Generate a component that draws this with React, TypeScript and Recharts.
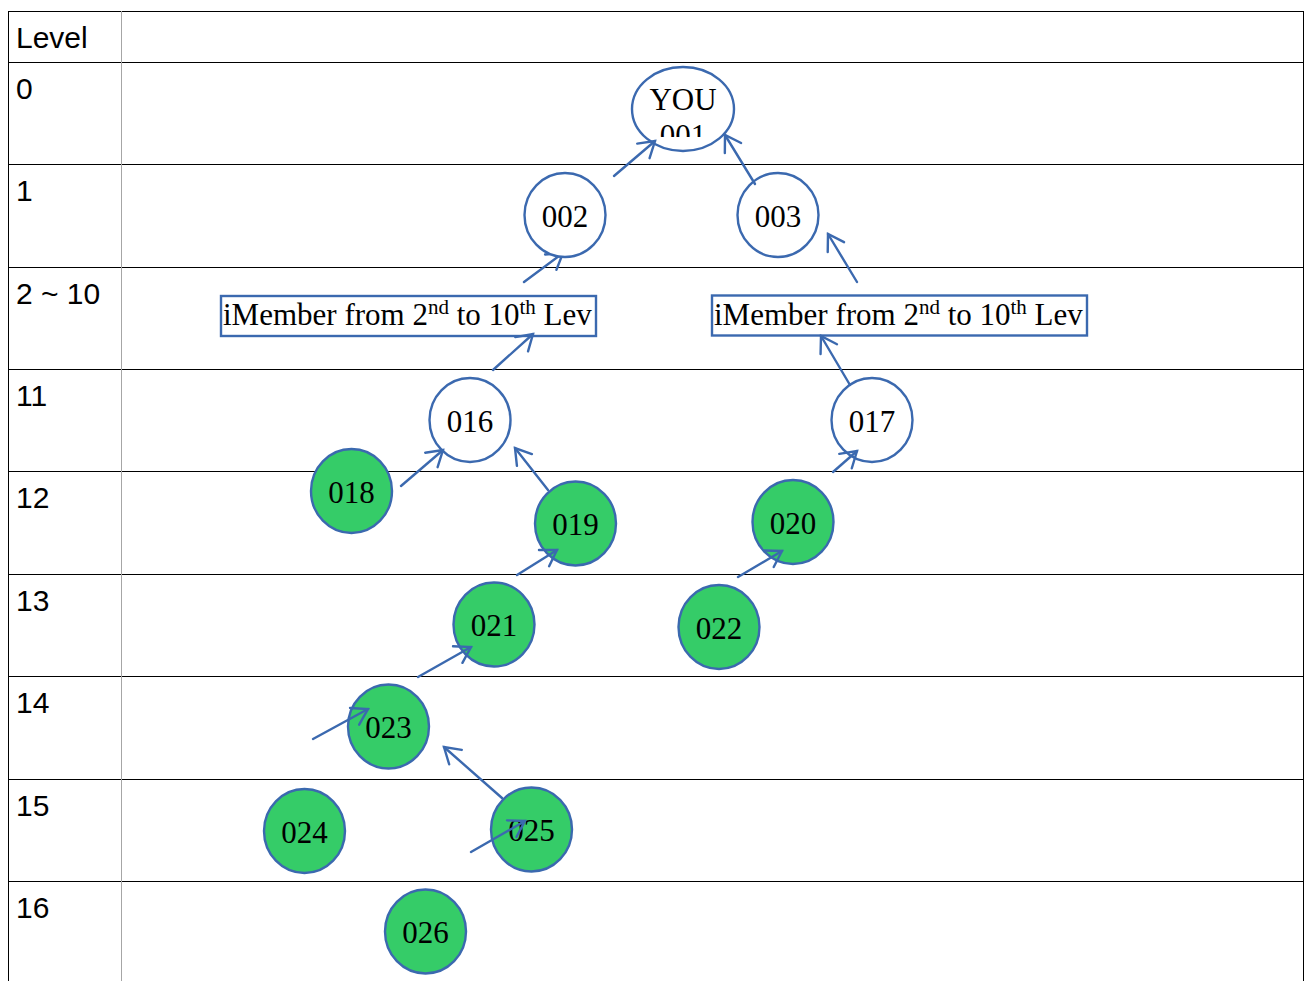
import React from "react";
import { ScatterChart, Scatter, XAxis, YAxis, ReferenceLine } from "recharts";

// table rows (top edges) and the level written in each row
const rowLines = [11.5, 62.5, 164.5, 267.5, 369.5, 471.5, 574.5, 676.5, 779.5, 881.5];
const levelLabels = ["Level", "0", "1", "2 ~ 10", "11", "12", "13", "14", "15", "16"];
const borderLines = [8.5, 1303.5];
const columnLine = 121.5;

// the member tree
const rootNode = [{ id: "YOU", sub: "001", x: 683, y: 109 }];
const uplineNodes = [
  { id: "002", x: 565, y: 215 },
  { id: "003", x: 778, y: 215 },
  { id: "016", x: 470, y: 420 },
  { id: "017", x: 872, y: 420 },
];
const newNodes = [
  { id: "018", x: 351.5, y: 491 },
  { id: "019", x: 575.5, y: 523.5 },
  { id: "020", x: 793, y: 522 },
  { id: "021", x: 494, y: 624.5 },
  { id: "022", x: 719, y: 627 },
  { id: "023", x: 388.5, y: 726.5 },
  { id: "024", x: 304.5, y: 831 },
  { id: "025", x: 531.5, y: 829.5 },
  { id: "026", x: 425.5, y: 931.5 },
];
const groupBoxes = [
  { x: 408.5, y: 316 },
  { x: 899.5, y: 315.5 },
];
const links = [
  { x1: 614, y1: 176, x2: 655, y2: 141 },
  { x1: 755, y1: 184, x2: 725, y2: 135 },
  { x1: 857, y1: 282, x2: 828, y2: 234 },
  { x1: 493, y1: 370, x2: 533, y2: 334 },
  { x1: 850, y1: 385, x2: 821, y2: 336 },
  { x1: 401, y1: 486, x2: 443, y2: 450 },
  { x1: 548, y1: 490, x2: 515, y2: 448 },
  { x1: 517, y1: 575, x2: 557, y2: 550 },
  { x1: 738, y1: 577, x2: 782, y2: 551 },
  { x1: 833, y1: 472, x2: 857, y2: 451 },
  { x1: 418, y1: 677, x2: 471, y2: 647 },
  { x1: 313, y1: 739, x2: 368, y2: 709 },
  { x1: 502, y1: 798, x2: 444, y2: 747 },
  { x1: 471, y1: 852, x2: 525, y2: 821 },
];
// this one runs in under its node
const hiddenLinks = [{ x1: 524, y1: 282, x2: 563, y2: 253 }];

const labelData = levelLabels.map((label, i) => ({ label, x: 16, y: rowLines[i] + 36.5 }));

const BLUE = "#3B69AF";
const GREEN = "#35CC68";
const SERIF = "'Liberation Serif', 'Times New Roman', serif";
const SANS = "'Liberation Sans', Arial, sans-serif";

const LevelText = (props: any) => (
  <text x={props.cx} y={props.cy} fontFamily={SANS} fontSize={30} fill="#000">
    {props.payload.label}
  </text>
);

const makeCircle = (fill: string) => (props: any) => {
  const { cx, cy, payload } = props;
  return (
    <g>
      <ellipse cx={cx} cy={cy} rx={40.5} ry={42} fill={fill} stroke={BLUE} strokeWidth={2.4} />
      <text x={cx} y={cy + 11.5} textAnchor="middle" fontFamily={SERIF} fontSize={31} fill="#000">
        {payload.id}
      </text>
    </g>
  );
};

const RootShape = (props: any) => {
  const { cx, cy, payload } = props;
  return (
    <g>
      <defs>
        <clipPath id="root-clip">
          <rect x={cx - 60} y={cy - 42} width={120} height={70} />
        </clipPath>
      </defs>
      <ellipse cx={cx} cy={cy} rx={51} ry={42} fill="#fff" stroke={BLUE} strokeWidth={2.4} />
      <g clipPath="url(#root-clip)" fontFamily={SERIF} fontSize={31} fill="#000">
        <text x={cx} y={cy + 1} textAnchor="middle">{payload.id}</text>
        <text x={cx} y={cy + 37} textAnchor="middle">{payload.sub}</text>
      </g>
    </g>
  );
};

const BoxShape = (props: any) => {
  const { cx, cy } = props;
  const w = 375;
  const h = 40;
  return (
    <g>
      <rect x={cx - w / 2} y={cy - h / 2} width={w} height={h} fill="#fff" stroke={BLUE} strokeWidth={2.4} />
      <text x={cx - w / 2 + 2} y={cy + 9} fontFamily={SERIF} fontSize={31} fill="#000">
        <tspan>iMember from 2</tspan>
        <tspan dy={-11} fontSize={21}>nd</tspan>
        <tspan dy={11}>{" to 10"}</tspan>
        <tspan dy={-11} fontSize={21}>th</tspan>
        <tspan dy={11}>{" Lev"}</tspan>
      </text>
    </g>
  );
};

const Arrow = (props: any) => {
  const { x1, y1, x2, y2 } = props;
  const a = Math.atan2(y2 - y1, x2 - x1);
  const len = 18;
  const spread = (32 * Math.PI) / 180;
  const w1x = x2 - len * Math.cos(a - spread);
  const w1y = y2 - len * Math.sin(a - spread);
  const w2x = x2 - len * Math.cos(a + spread);
  const w2y = y2 - len * Math.sin(a + spread);
  return (
    <g stroke={BLUE} strokeWidth={2.4} fill="none" strokeLinecap="round">
      <line x1={x1} y1={y1} x2={x2} y2={y2} />
      <polyline points={`${w1x},${w1y} ${x2},${y2} ${w2x},${w2y}`} />
    </g>
  );
};

const seg = (l: any) => [
  { x: l.x1, y: l.y1 },
  { x: l.x2, y: l.y2 },
];

export default function App() {
  return (
    <div style={{ position: "absolute", left: 0, top: 0, width: 1304, height: 981, background: "#fff" }}>
      <ScatterChart width={1304} height={981} margin={{ top: 11, right: 0, bottom: 0, left: 8 }}>
        <XAxis type="number" dataKey="x" domain={[8, 1304]} allowDataOverflow hide />
        <YAxis type="number" dataKey="y" domain={[11, 981]} reversed allowDataOverflow hide />
        {rowLines.map((y) => (
          <ReferenceLine key={"h" + y} y={y} stroke="#000" strokeWidth={1} zIndex={-100} />
        ))}
        {borderLines.map((x) => (
          <ReferenceLine key={"v" + x} x={x} stroke="#000" strokeWidth={1} zIndex={-100} />
        ))}
        <ReferenceLine x={columnLine} stroke="#a6a6a6" strokeWidth={1} zIndex={-100} />
        {hiddenLinks.map((l, i) => (
          <ReferenceLine key={"hl" + i} segment={seg(l)} shape={Arrow} zIndex={-50} />
        ))}
        <Scatter data={labelData} shape={LevelText} isAnimationActive={false} />
        <Scatter data={groupBoxes} shape={BoxShape} isAnimationActive={false} />
        <Scatter data={rootNode} shape={RootShape} isAnimationActive={false} />
        <Scatter data={uplineNodes} shape={makeCircle("#fff")} isAnimationActive={false} />
        <Scatter data={newNodes} shape={makeCircle(GREEN)} isAnimationActive={false} />
        {links.map((l, i) => (
          <ReferenceLine key={"l" + i} segment={seg(l)} shape={Arrow} zIndex={1000} />
        ))}
      </ScatterChart>
    </div>
  );
}
